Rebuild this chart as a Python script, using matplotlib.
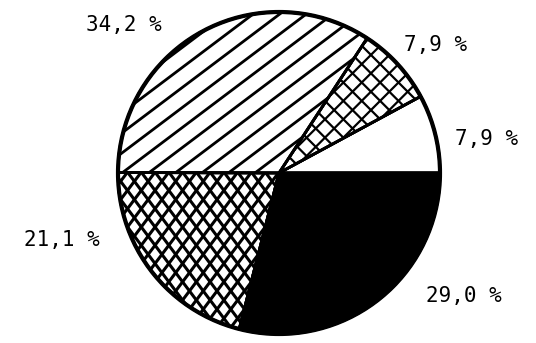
import matplotlib
matplotlib.use("Agg")
import numpy as np
import matplotlib.pyplot as plt
from matplotlib.patches import Circle, Wedge
from matplotlib.collections import LineCollection

# Data (counter-clockwise from 3 o'clock)
labels = ["7,9 %", "7,9 %", "34,2 %", "21,1 %", "29,0 %"]
values = [7.9, 7.9, 34.2, 21.1, 29.0]
facecolors = ["white", "white", "white", "white", "black"]
# hatch style per slice: list of (angle_deg, spacing_px, linewidth_pt)
hatch_styles = [
    [],
    [(45, 13, 1.6), (-45, 13, 1.6)],
    [(37, 16, 2.0)],
    [(53, 11, 2.2), (-53, 11, 2.2)],
    [],
]

# label positions in pixel coords (image y measured from top)
label_xy = [(487, 139), (436, 45), (124, 25), (62, 240), (464, 296)]

W, H = 536, 343
CX, CY, R = 279, 173, 161

fig = plt.figure(figsize=(W / 100, H / 100), dpi=100)
ax = fig.add_axes([0, 0, 1, 1])
ax.set_xlim(0, W)
ax.set_ylim(0, H)
ax.set_aspect("equal")
ax.axis("off")

cy = H - CY
wedges, _ = ax.pie(values, startangle=0, counterclock=True,
                   center=(CX, cy), radius=R, colors=facecolors,
                   wedgeprops=dict(edgecolor="black", linewidth=2.0))
ax.set_xlim(0, W)
ax.set_ylim(0, H)


def hatch_lines(angle, spacing):
    th = np.deg2rad(angle)
    d = np.array([np.cos(th), np.sin(th)])
    n = np.array([-np.sin(th), np.cos(th)])
    segs = []
    L = R * 1.5
    for k in np.arange(-R * 1.5, R * 1.5, spacing):
        p = np.array([CX, cy]) + n * k
        segs.append([p - d * L, p + d * L])
    return segs


for w, styles in zip(wedges, hatch_styles):
    for ang, sp, lw in styles:
        lc = LineCollection(hatch_lines(ang, sp), colors="black", linewidths=lw,
                            zorder=w.get_zorder() + 0.1)
        ax.add_collection(lc)
        lc.set_clip_path(w)

for w in wedges:
    ax.add_patch(Wedge(w.center, w.r, w.theta1, w.theta2, fill=False,
                       edgecolor="black", linewidth=2.0, zorder=4))
ax.add_patch(Circle((CX, cy), R, fill=False, edgecolor="black", linewidth=3.0, zorder=5))

for lab, (x, y) in zip(labels, label_xy):
    ax.text(x, H - y, lab, ha="center", va="center", fontsize=15,
            family="DejaVu Sans Mono", color="black")

fig.savefig("out.png", dpi=100)
